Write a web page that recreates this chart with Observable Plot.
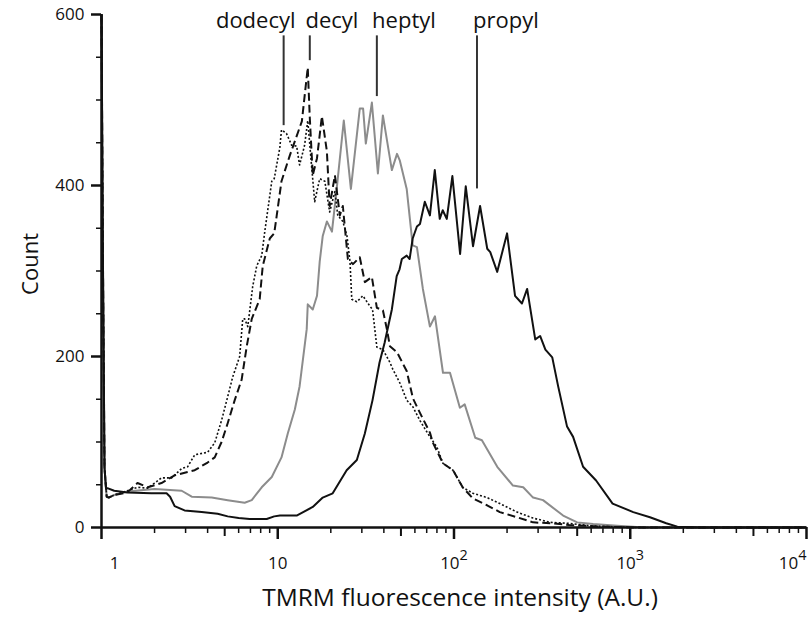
<!DOCTYPE html>
<html>
<head>
<meta charset="utf-8">
<script src="https://cdn.jsdelivr.net/npm/d3@7"></script>
<script src="https://cdn.jsdelivr.net/npm/@observablehq/plot@0.6"></script>
<style>
  body { margin: 0; background: #fff; }
  #chart svg { display: block; }
</style>
</head>
<body>
<div id="chart"></div>
<script>
// ---- Data: [TMRM intensity (A.U.), count] ----
const propyl = [[1,600],[1.02,300],[1.04,70],[1.06,46],[1.08,46],[1.18,43],[1.4,41],[1.92,40],[2.19,40],[2.34,40],[2.45,36],[2.6,25],[2.96,20],[3.7,18],[4.56,16],[5.2,13],[6.0,11],[6.93,10],[8.0,10],[8.66,10],[9.55,13],[10.3,14],[12.5,14],[12.8,14],[15.8,24],[18,35],[20.5,40],[24.6,67],[28.1,79],[31.2,110],[34.5,149],[37.8,193],[40.4,216],[44.4,255],[47.3,294],[49.1,302],[50.6,314],[53.9,318],[56,314],[58.3,338],[61.6,352],[64.1,355],[68.3,381],[73,365],[77.8,418],[83,361],[86.3,371],[91,361],[97.9,411],[108.3,320],[116.6,399],[128.2,329],[140.6,376],[154.4,326],[160.6,322],[175.9,299],[200,344],[222,271],[243,262],[260,279],[289,220],[308,224],[330,208],[361,199],[390,165],[438,118],[474,106],[540,71],[640,55],[794,28],[1040,18],[1294,12],[1600,5],[1850,1],[2500,0],[10000,0]];

const heptyl = [[1,600],[1.02,300],[1.04,70],[1.07,36],[1.1,35],[1.18,38],[1.4,42],[2.0,45],[2.85,43],[3.25,36],[4.22,35],[5.2,32],[6.49,29],[7.12,32],[8.11,47],[9.25,59],[10.5,82],[11.4,110],[12.5,138],[13.3,165],[14.6,232],[14.8,261],[15.8,255],[16.7,271],[17.3,311],[18.0,341],[19.0,358],[20.3,346],[21.6,396],[23.7,476],[26.0,396],[29.2,490],[30.5,490],[31.6,449],[34.2,497],[37.0,414],[39.5,482],[44.4,418],[47.5,437],[49.3,429],[53.9,396],[58.3,330],[61.6,328],[66.6,279],[73,235],[78,247],[86.6,181],[94.9,181],[108,140],[115,144],[132,105],[144,102],[176,71],[216,49],[247,47],[281,35],[320,32],[416,14],[500,6],[616,4],[844,2],[1200,0],[10000,0]];

const decyl = [[1,600],[1.02,300],[1.04,70],[1.07,36],[1.1,35],[1.18,38],[1.4,41],[1.6,52],[1.83,47],[2.19,52],[2.6,61],[3.08,65],[3.38,67],[4.0,76],[4.39,82],[4.8,100],[5.2,122],[5.7,149],[6.24,173],[6.67,212],[7.12,244],[7.9,267],[8.22,306],[9.01,338],[9.55,344],[9.87,365],[10.5,405],[11.7,435],[13.7,475],[14.8,538],[15.2,479],[15.8,412],[16.7,432],[17.8,481],[19.0,440],[19.7,376],[21.1,412],[22.5,365],[23.4,376],[25.0,314],[26.7,308],[29.2,316],[31.2,287],[34.2,293],[36.5,257],[39.5,254],[41.6,232],[43.3,212],[47.5,205],[53.9,183],[58.5,151],[64.1,134],[73,111],[76,99],[86.6,75],[98.7,67],[112,47],[128,34],[154,26],[182,18],[228,12],[281,6],[351,5],[450,3],[700,1],[1000,0],[10000,0]];

const dodecyl = [[1,600],[1.02,300],[1.04,70],[1.07,36],[1.1,35],[1.18,38],[1.4,43],[1.6,47],[1.83,46],[2.0,52],[2.19,58],[2.5,58],[2.85,69],[3.08,71],[3.38,85],[4.0,88],[4.39,99],[4.81,126],[5.2,153],[5.55,176],[6.08,200],[6.33,244],[6.49,244],[6.76,235],[7.21,282],[7.6,306],[8.11,318],[8.44,346],[9.25,405],[9.55,408],[10.27,444],[10.5,465],[11.2,461],[12.0,447],[12.8,446],[13.3,424],[14.2,447],[14.8,476],[15.6,420],[16.2,381],[17.3,408],[18.5,405],[19.7,369],[21.1,393],[21.9,365],[23.4,358],[24.7,341],[25.7,311],[26.3,267],[28.1,264],[30.4,271],[33.3,259],[34.5,255],[36.5,211],[39.5,208],[43.3,193],[45,185],[49.3,169],[53.9,149],[58.5,141],[64.1,125],[73,106],[80,94],[86.6,75],[98.7,67],[112,47],[128,40],[154,35],[182,28],[228,18],[281,11],[351,6],[438,5],[600,2],[1000,0],[10000,0]];

// Annotations
const annLabels = ["dodecyl", "decyl", "heptyl", "propyl"];
const annTextX = [7.5, 20.3, 52.0, 197];
const annLineX = [10.8, 15.2, 36.5, 135];
const annLineBottom = [470, 546, 504, 396];
const annLineTop = 575;
const annTextY = 592;

// Axes
const xMajor = [1, 10, 100, 1000, 10000];
const xTickLabels = ["1", "10", "10^2", "10^3", "10^4"];
const xDecades = [1, 10, 100, 1000];
const xMinorMult = [2, 3, 4, 6, 7, 8, 9];
const xFiveTicks = [5, 50, 500, 5000];
const yMajor = [0, 200, 400, 600];
const yMinor = [50, 100, 150, 250, 300, 350, 450, 500, 550];
const xMinor = xDecades.flatMap(d => xMinorMult.map(m => d * m));

const xTitle = "TMRM fluorescence intensity (A.U.)";
const yTitle = "Count";
const yTitleAt = 272; // count level at the centre of the y title

const ink = "#111";
const lineOpts = {x: d => d[0], y: d => d[1], strokeLinejoin: "round", strokeLinecap: "butt"};

const chart = Plot.plot({
  width: 809,
  height: 619,
  marginLeft: 101,
  marginRight: 3,
  marginTop: 14,
  marginBottom: 92,
  x: {type: "log", domain: [1, 10000]},
  y: {domain: [0, 600]},
  style: {fontFamily: "'Open Sans', sans-serif", fontSize: "17px", color: ink, background: "#fff", overflow: "visible"},
  marks: [
    // data lines
    Plot.line(heptyl, {...lineOpts, stroke: "#8c8c8c", strokeWidth: 2}),
    Plot.line(propyl, {...lineOpts, stroke: ink, strokeWidth: 2}),
    Plot.line(decyl, {...lineOpts, stroke: ink, strokeWidth: 2, strokeDasharray: "8,4"}),
    Plot.line(dodecyl, {...lineOpts, stroke: ink, strokeWidth: 1.6, strokeDasharray: "2,2"}),

    // axes lines
    Plot.ruleY([0], {stroke: ink, strokeWidth: 2.5}),
    Plot.ruleX([1], {stroke: ink, strokeWidth: 2.5}),

    // x ticks
    Plot.axisX(xMajor, {tickSize: 12, strokeWidth: 2.5, text: null, label: null, stroke: ink}),
    Plot.axisX(xFiveTicks, {tickSize: 9, strokeWidth: 2, text: null, label: null, stroke: ink}),
    Plot.axisX(xMinor, {tickSize: 6, strokeWidth: 1.5, text: null, label: null, stroke: ink}),
    Plot.text(xMajor.slice(1, 4), {x: d => d, text: (d, i) => xTickLabels[i + 1], frameAnchor: "bottom", dy: 41, fontSize: 17, fill: ink}),
    Plot.text(xMajor.slice(0, 1), {x: d => d, text: () => xTickLabels[0], frameAnchor: "bottom", dy: 41, dx: 13, fontSize: 17, fill: ink}),
    Plot.text(xMajor.slice(4), {x: d => d, text: () => xTickLabels[4], frameAnchor: "bottom", dy: 41, textAnchor: "end", fontSize: 17, fill: ink}),

    // y ticks
    Plot.axisY(yMajor, {tickSize: 10, strokeWidth: 2.5, tickPadding: 7, fontSize: 17, label: null, stroke: ink}),
    Plot.axisY(yMinor, {tickSize: 5, strokeWidth: 1.5, text: null, label: null, stroke: ink}),

    // annotations
    Plot.ruleX(annLineX.map((x, i) => ({x, y1: annLineBottom[i]})), {x: "x", y1: "y1", y2: annLineTop, stroke: "#333", strokeWidth: 2}),
    Plot.text(annLabels, {x: (d, i) => annTextX[i], y: annTextY, text: d => d, fontSize: 22, fill: ink}),

    // titles
    Plot.text([xTitle], {frameAnchor: "bottom", dy: 78, dx: 6, fontSize: 24.5, fill: ink}),
    Plot.text([{t: yTitle, y: yTitleAt}], {y: "y", text: "t", frameAnchor: "left", dx: -71, rotate: -90, fontSize: 22, fill: ink})
  ]
});

// superscripts for 10^n tick labels
chart.querySelectorAll("text").forEach(t => {
  const s = t.textContent;
  if (s.includes("^")) {
    const [base, exp] = s.split("^");
    while (t.firstChild) t.removeChild(t.firstChild);
    const ns = "http://www.w3.org/2000/svg";
    const b = document.createElementNS(ns, "tspan");
    b.textContent = base;
    const e = document.createElementNS(ns, "tspan");
    e.setAttribute("dy", "-0.6em");
    e.setAttribute("font-size", "0.85em");
    e.textContent = exp;
    t.appendChild(b);
    t.appendChild(e);
  }
});

document.getElementById("chart").appendChild(chart);
</script>
</body>
</html>
